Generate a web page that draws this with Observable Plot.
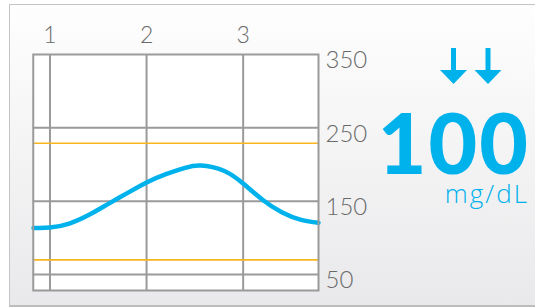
<!DOCTYPE html>
<html>
<head>
<meta charset="utf-8">
<script src="https://cdn.jsdelivr.net/npm/d3@7"></script>
<script src="https://cdn.jsdelivr.net/npm/@observablehq/plot@0.6"></script>
<style>
  html, body { margin: 0; padding: 0; background: #fff; }
  #wrap { position: relative; width: 535px; height: 308px; overflow: hidden; font-family: Lato, "Open Sans", sans-serif; }
  #panel { position: absolute; left: 9px; top: 4px; width: 560px; height: 300px;
           border: 1.5px solid #c4c4c4; border-bottom: 2px solid #bdbdbd;
           background: linear-gradient(#fefefe, #e9e9eb); }
  #chart { position: absolute; left: 0; top: 0; }
  #arrows { position: absolute; left: 438px; top: 48px; }
  #value { position: absolute; left: 370px; top: 107.5px; width: 160px; text-align: right;
           font-family: Lato, sans-serif; font-weight: 900; font-size: 84px; line-height: 0.8;
           color: #00b2ec; letter-spacing: 2px; }
  #unit { position: absolute; left: 380px; top: 180px; width: 149px; text-align: right;
          font-family: "Open Sans", sans-serif; font-weight: 300; font-size: 26px; line-height: 1;
          color: #00b2ec; letter-spacing: 2px; }
</style>
</head>
<body>
<div id="wrap">
  <div id="panel"></div>
  <div id="chart"></div>
  <svg id="arrows" width="66" height="40">
    <g fill="#00b2ec">
      <rect x="13" y="0" width="5" height="24"/>
      <polygon points="2,22 29,22 15.5,36"/>
      <rect x="47.5" y="0" width="5" height="24"/>
      <polygon points="36.5,22 63.5,22 50,36"/>
    </g>
  </svg>
  <div id="value">100</div>
  <div id="unit">mg/dL</div>
</div>
<script>
const hours = [0.83, 1.0, 1.2, 1.4, 1.6, 1.8, 2.0, 2.2, 2.4, 2.56, 2.8, 3.0, 3.2, 3.4, 3.6, 3.78];
const glucose = [113.5, 114, 119.5, 131, 146, 161, 175.5, 187, 195.5, 198.7, 191.5, 174, 152, 135, 124.5, 120.5];
const xTicks = [1, 2, 3];
const yTicks = [50, 150, 250, 350];
const yGrid = [50, 150, 250];
const targetRange = [70, 229];

const data = hours.map((h, i) => ({h, g: glucose[i]}));

const chart = Plot.plot({
  width: 535,
  height: 308,
  marginLeft: 32.75,
  marginRight: 217,
  marginTop: 54,
  marginBottom: 18,
  style: {background: "transparent", fontFamily: "Lato, 'Open Sans', sans-serif", color: "#6a6a6a"},
  x: {domain: [0.827, 3.78]},
  y: {domain: [28.2, 350]},
  marks: [
    Plot.frame({fill: "white", stroke: null}),
    Plot.ruleX(xTicks, {stroke: "#9a9a9a", strokeWidth: 2, strokeOpacity: 1}),
    Plot.ruleY(yGrid, {stroke: "#9a9a9a", strokeWidth: 2, strokeOpacity: 1}),
    Plot.ruleY(targetRange, {stroke: "#f7b51f", strokeWidth: 1.6, strokeOpacity: 1}),
    Plot.line(data, {x: "h", y: "g", curve: "natural", stroke: "#00b2ec", strokeWidth: 4.5}),
    Plot.frame({stroke: "#9a9a9a", strokeWidth: 2, strokeOpacity: 1}),
    Plot.axisX(xTicks, {anchor: "top", tickSize: 0, tickPadding: 12, fontSize: 23, fontWeight: 300, fill: "#6a6a6a", label: null}),
    Plot.axisY(yTicks, {anchor: "right", tickSize: 0, tickPadding: 7, fontSize: 24, fontWeight: 300, fill: "#6a6a6a", dy: 6, label: null})
  ]
});
document.getElementById("chart").appendChild(chart);
</script>
</body>
</html>
